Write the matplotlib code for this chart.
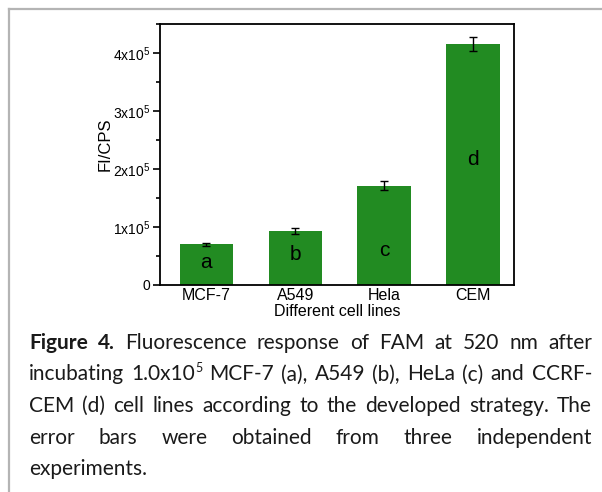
import matplotlib
matplotlib.use('Agg')
import matplotlib.pyplot as plt
import numpy as np
from matplotlib.lines import Line2D
from matplotlib.ticker import MultipleLocator

W, H = 602, 492

cells = ['MCF-7', 'A549', 'Hela', 'CEM']
fi = [7.0e4, 9.3e4, 1.71e5, 4.15e5]
err = [3.0e3, 5.0e3, 8.0e3, 1.2e4]
letters = ['a', 'b', 'c', 'd']
letter_y = [3.85e4, 5.3e4, 6.0e4, 2.16e5]
yticks = [0, 1e5, 2e5, 3e5, 4e5]
ytick_labels = ['0', '1x10$^5$', '2x10$^5$', '3x10$^5$', '4x10$^5$']

# caption, one list per line; each word is a list of (text, kind)
caption = [
    [[('Figure', 'bold')], [('4.', 'bold')], [('Fluorescence', 'n')], [('response', 'n')],
     [('of', 'n')], [('FAM', 'n')], [('at', 'n')], [('520', 'n')], [('nm', 'n')], [('after', 'n')]],
    [[('incubating', 'n')], [('1.0x10', 'n'), ('5', 'sup')], [('MCF-7', 'n')], [('(a),', 'n')],
     [('A549', 'n')], [('(b),', 'n')], [('HeLa', 'n')], [('(c)', 'n')], [('and', 'n')], [('CCRF-', 'n')]],
    [[('CEM', 'n')], [('(d)', 'n')], [('cell', 'n')], [('lines', 'n')], [('according', 'n')],
     [('to', 'n')], [('the', 'n')], [('developed', 'n')], [('strategy.', 'n')], [('The', 'n')]],
    [[('error', 'n')], [('bars', 'n')], [('were', 'n')], [('obtained', 'n')], [('from', 'n')],
     [('three', 'n')], [('independent', 'n')]],
    [[('experiments.', 'n')]],
]

plt.rcParams['font.family'] = ['Liberation Sans', 'DejaVu Sans']
plt.rcParams['mathtext.default'] = 'regular'

fig = plt.figure(figsize=(W / 100, H / 100), dpi=100)
ax = fig.add_axes([160 / W, 1 - 285 / H, 354 / W, 261 / H])

x = np.arange(len(cells))
ax.bar(x, fi, width=0.6, color='#228b22', zorder=2)
ax.errorbar(x, fi, yerr=err, fmt='none', ecolor='black', elinewidth=1.0,
            capsize=3, capthick=1.0, zorder=3)
for i, lab in enumerate(letters):
    ax.text(x[i], letter_y[i], lab, ha='center', va='center', fontsize=15, color='black', zorder=4)

ax.set_xlim(-0.52, 3.46)
ax.set_ylim(0, 4.5e5)
ax.set_xticks(x)
ax.set_xticklabels(cells, fontsize=11.5)
ax.set_yticks(yticks)
ax.set_yticklabels(ytick_labels, fontsize=10)
ax.yaxis.set_minor_locator(MultipleLocator(0.5e5))
ax.tick_params(axis='x', length=0, pad=2.5)
ax.tick_params(axis='y', which='major', direction='out', length=5, width=1.2, pad=2)
ax.tick_params(axis='y', which='minor', direction='out', length=3, width=1.2)
for s in ax.spines.values():
    s.set_linewidth(1.3)

ax.set_xlabel('Different cell lines', fontsize=11.5)
ax.xaxis.set_label_coords(0.5, -0.074)
ax.set_ylabel('FI/CPS', fontsize=12)
ax.yaxis.set_label_coords(-0.135, 0.54)

# frame fragment around the figure
fig.add_artist(Line2D([9 / W, 1], [1 - 9 / H, 1 - 9 / H], color='#b4b4b4', lw=1.6))
fig.add_artist(Line2D([9 / W, 9 / W], [0, 1 - 9 / H], color='#b4b4b4', lw=1.6))

# justified caption
fig.canvas.draw()
r = fig.canvas.get_renderer()
cap_size = 15
left, right = 29, 592
base0, step = 349, 31.5
for li, line in enumerate(caption):
    words = []
    total = 0
    for word in line:
        parts = []
        wsum = 0
        for s, kind in word:
            t = fig.text(0, 0, s, fontsize=cap_size * (0.6 if kind == 'sup' else 1),
                         fontweight='bold' if kind == 'bold' else 'normal',
                         family=['Lato', 'DejaVu Sans'], color='#1a1a1a',
                         ha='left', va='baseline')
            w = t.get_window_extent(r).width
            parts.append((t, kind, w))
            wsum += w
        words.append((parts, wsum))
        total += wsum
    if li < len(caption) - 1 and len(words) > 1:
        gap = (right - left - total) / (len(words) - 1)
    else:
        gap = 5
    xx = left
    yb = base0 + step * li
    for parts, wsum in words:
        for t, kind, w in parts:
            dy = 9 if kind == 'sup' else 0
            t.set_position((xx / W, 1 - (yb - dy) / H))
            xx += w
        xx += gap

fig.savefig('out.png', dpi=100)
